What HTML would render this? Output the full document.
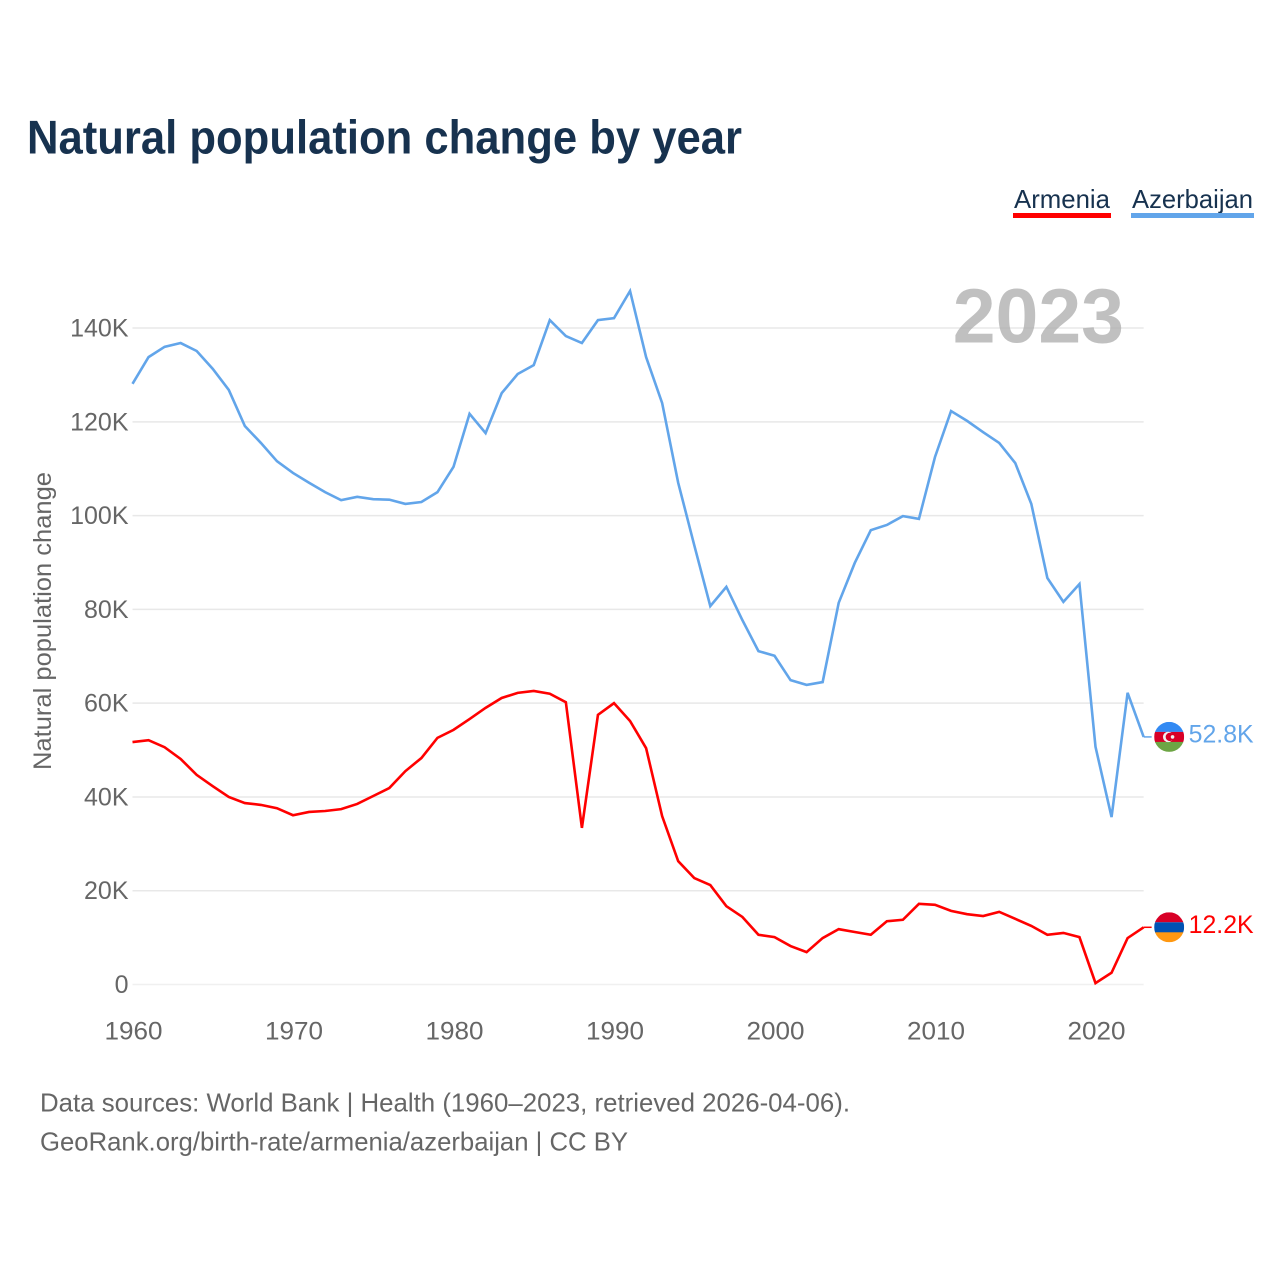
<!DOCTYPE html>
<html lang="en">
<head>
<meta charset="utf-8">
<title>Natural population change by year</title>
<style>
  html, body { margin: 0; padding: 0; background: #fff; }
  svg { display: block; font-family: "Liberation Sans", sans-serif; }
</style>
</head>
<body>
<svg id="chart" xmlns="http://www.w3.org/2000/svg" width="1280" height="1280" viewBox="0 0 1280 1280">
  <defs>
    <clipPath id="flag-clip"><circle cx="0" cy="0" r="15"/></clipPath>
  </defs>
  <rect width="1280" height="1280" fill="#ffffff"/>
  <text x="27" y="153.5" font-size="47" font-weight="700" fill="#17324f" textLength="715" lengthAdjust="spacingAndGlyphs">Natural population change by year</text>

  <g>
    <text x="1014" y="208" font-size="26" fill="#17324f" textLength="96" lengthAdjust="spacingAndGlyphs">Armenia</text>
    <rect x="1013" y="213" width="98" height="5" fill="#ff0000"/>
  </g>
  <g>
    <text x="1132" y="208" font-size="26" fill="#17324f" textLength="121" lengthAdjust="spacingAndGlyphs">Azerbaijan</text>
    <rect x="1131" y="213" width="123" height="5" fill="#62a5ea"/>
  </g>

  <g id="grid"></g>
  <text x="1124" y="342.5" font-size="77" font-weight="700" fill="#a8a8a8" fill-opacity="0.72" text-anchor="end">2023</text>
  <g id="y-ticks"></g>
  <g id="x-ticks"></g>
  <text transform="translate(51 621) rotate(-90)" font-size="25" fill="#666666" text-anchor="middle" textLength="298" lengthAdjust="spacingAndGlyphs">Natural population change</text>

  <g id="series"></g>

  <g id="flag-azerbaijan">
    <g clip-path="url(#flag-clip)">
      <rect x="-15" y="-15" width="30" height="10" fill="#338af3"/>
      <rect x="-15" y="-5" width="30" height="10.5" fill="#d80027"/>
      <rect x="-15" y="5" width="30" height="10" fill="#6da544"/>
      <circle cx="-1" cy="0" r="5.2" fill="#f0f0f0"/>
      <circle cx="0.7" cy="0" r="4.2" fill="#d80027"/>
      <circle cx="3.4" cy="0" r="1.8" fill="#f0f0f0"/>
    </g>
  </g>
  <g id="flag-armenia">
    <g clip-path="url(#flag-clip)">
      <rect x="-15" y="-15" width="30" height="10" fill="#d80027"/>
      <rect x="-15" y="-5" width="30" height="10.5" fill="#0052b4"/>
      <rect x="-15" y="5" width="30" height="10" fill="#ff9811"/>
    </g>
  </g>

  <text x="40" y="1111.5" font-size="26" fill="#666666" textLength="810" lengthAdjust="spacingAndGlyphs">Data sources: World Bank | Health (1960–2023, retrieved 2026-04-06).</text>
  <text x="40" y="1150.5" font-size="26" fill="#666666" textLength="588" lengthAdjust="spacingAndGlyphs">GeoRank.org/birth-rate/armenia/azerbaijan | CC BY</text>
</svg>
<script>
const startYear = 1960;
const armeniaValues = [51.7,52.1,50.6,48.1,44.7,42.3,40.0,38.7,38.3,37.6,36.1,36.8,37.0,37.4,38.5,40.2,41.9,45.5,48.3,52.6,54.3,56.6,59.0,61.1,62.2,62.6,62.0,60.2,33.4,57.5,60.0,56.2,50.4,35.9,26.3,22.7,21.2,16.7,14.4,10.6,10.1,8.2,6.9,9.9,11.8,11.2,10.6,13.5,13.8,17.2,17.0,15.7,15.0,14.6,15.5,14.0,12.5,10.6,11.0,10.1,0.3,2.5,9.9,12.2];
const azerbaijanValues = [128.1,133.8,136.0,136.8,135.1,131.3,126.8,119.1,115.5,111.6,109.1,107.0,105.0,103.3,104.0,103.5,103.4,102.5,102.9,105.0,110.4,121.7,117.6,126.1,130.2,132.1,141.7,138.3,136.8,141.7,142.1,147.9,133.8,124.0,107.0,93.7,80.7,84.8,77.7,71.1,70.1,64.9,63.9,64.5,81.4,89.9,96.9,98.0,99.9,99.3,112.5,122.3,120.2,117.8,115.5,111.2,102.5,86.7,81.6,85.4,50.7,35.7,62.2,52.8];
const yTickValues = [0,20,40,60,80,100,120,140];
const xTickYears = [1960,1970,1980,1990,2000,2010,2020];

const SVG_NS = 'http://www.w3.org/2000/svg';
const xLeft = 132.5, xStep = 16.05;
const yZero = 984.5, yPerUnit = 4.689;
function xScale(year) { return xLeft + (year - startYear) * xStep; }
function yScale(value) { return yZero - value * yPerUnit; }
function formatK(value) { return value === 0 ? '0' : value + 'K'; }
function make(tag, attrs, parent, text) {
  const el = document.createElementNS(SVG_NS, tag);
  for (const key in attrs) el.setAttribute(key, attrs[key]);
  if (text !== undefined) el.textContent = text;
  parent.appendChild(el);
  return el;
}

const lastYear = startYear + armeniaValues.length - 1;
const grid = document.getElementById('grid');
const yTicks = document.getElementById('y-ticks');
const xTicks = document.getElementById('x-ticks');
const seriesGroup = document.getElementById('series');

yTickValues.forEach(function (v) {
  const line = make('line', { x1: xLeft, x2: xScale(lastYear), y1: yScale(v), y2: yScale(v), stroke: v === 0 ? '#f0f0f0' : '#e8e8e8', 'stroke-width': 1.5 }, grid);
  
  
  const label = make('text', { x: 128.5, y: yScale(v) + 8.5, 'font-size': 25, fill: '#666666', 'text-anchor': 'end' }, yTicks, formatK(v));
  
  
});

xTickYears.forEach(function (year) {
  const label = make('text', { x: xScale(year) + 1, y: 1039.5, 'font-size': 25, fill: '#666666', 'text-anchor': 'middle', textLength: 58, lengthAdjust: 'spacingAndGlyphs' }, xTicks, String(year));
  
  
});

function drawSeries(values, color, seriesName, flagId) {
  const points = values.map(function (v, i) { return xScale(startYear + i).toFixed(2) + ',' + yScale(v).toFixed(2); }).join(' ');
  const path = make('polyline', { points: points, fill: 'none', stroke: color, 'stroke-width': 2.6, 'stroke-linejoin': 'miter' }, seriesGroup);
  
  

  const lastValue = values[values.length - 1];
  const endY = yScale(lastValue);
  const endX = xScale(lastYear);
  const connector = make('line', { x1: endX, x2: endX + 8, y1: endY, y2: endY, stroke: color, 'stroke-width': 1.5 }, seriesGroup);
  
  

  document.getElementById(flagId).setAttribute('transform', 'translate(' + (endX + 25.5) + ' ' + endY + ')');

  const valueLabel = make('text', { x: endX + 45, y: endY + 5.5, 'font-size': 25, fill: color, textLength: 65, lengthAdjust: 'spacingAndGlyphs' }, seriesGroup, lastValue.toFixed(1) + 'K');
  
  
}

drawSeries(azerbaijanValues, '#62a5ea', 'azerbaijan', 'flag-azerbaijan');
drawSeries(armeniaValues, '#ff0000', 'armenia', 'flag-armenia');
</script>
</body>
</html>
